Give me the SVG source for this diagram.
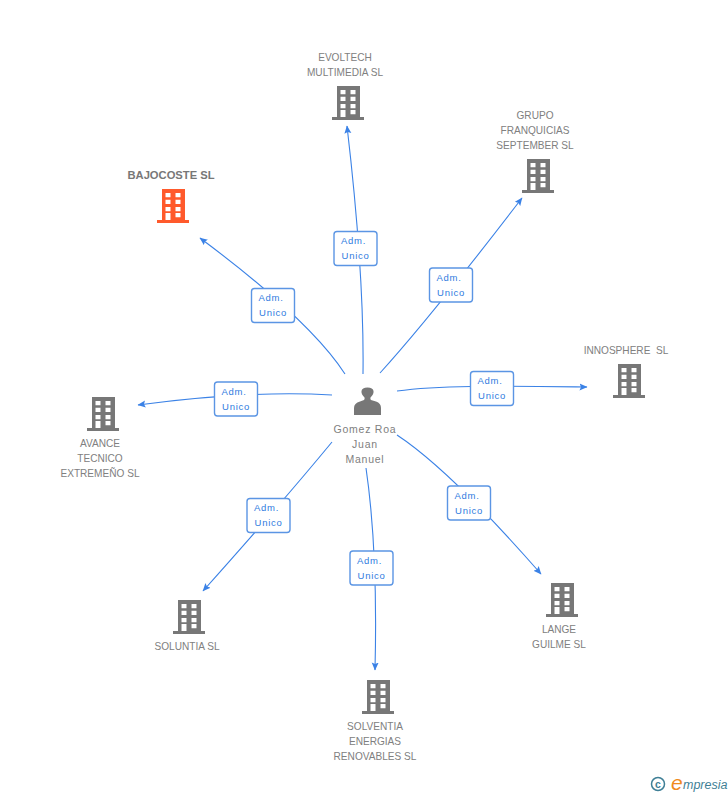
<svg xmlns="http://www.w3.org/2000/svg" xmlns:xlink="http://www.w3.org/1999/xlink" width="728" height="795" viewBox="0 0 728 795">
<style>
text{font-family:"Liberation Sans",Arial,sans-serif}
.n{font-size:10.100px;fill:#808080;text-anchor:middle}
.p{letter-spacing:.75px;font-size:10.500px}
.c{fill:none;stroke:#3b82e6;stroke-width:1.1}
.b{fill:#fff;stroke:#5b95e4;stroke-width:1.4}
.l{font-size:9.500px;fill:#2f7be0;text-anchor:middle;letter-spacing:.7px}
.i{font-style:italic;font-family:"Liberation Sans",Arial,sans-serif}
</style>
<defs>
<marker id="a" markerUnits="userSpaceOnUse" markerWidth="9" markerHeight="8" refX="7.500" refY="3.500" orient="auto"><path d="M0 0L8 3.500L0 7L1.500 3.500Z" fill="#3b82e6"/></marker>
<g id="bld"><path fill-rule="evenodd" d="M5 0H28V31H32V34H0V31H5ZM8.500 4V8.300H13.500V4ZM18.500 4V8.300H23.500V4ZM8.500 10.700V15H13.500V10.700ZM18.500 10.700V15H23.500V10.700ZM8.500 18V22.300H13.500V18ZM18.500 18V22.300H23.500V18ZM8.500 24V31H13.500V24ZM18.500 24V28.300H23.500V24Z"/></g>
<g id="adm"><rect x="0" y="0" width="43" height="34" rx="3" class="b"/><text class="l" x="19.500" y="12.500">Adm.</text><text class="l" x="21.500" y="27.500">Unico</text></g>
</defs>
<g id="connectors">
<path class="c" marker-end="url(#a)" d="M363 374C364 300 358 220 347 126"/>
<path class="c" marker-end="url(#a)" d="M380 373Q430 318 522 198"/>
<path class="c" marker-end="url(#a)" d="M345 374Q310 320 200 238"/>
<path class="c" marker-end="url(#a)" d="M397 391C440 385 500 386 587 387"/>
<path class="c" marker-end="url(#a)" d="M332 395Q250 390 138 405"/>
<path class="c" marker-end="url(#a)" d="M332 442Q280 505 203 591"/>
<path class="c" marker-end="url(#a)" d="M366 468Q378 550 375 670"/>
<path class="c" marker-end="url(#a)" d="M397 435Q450 470 541 574"/>
</g>
<g id="edge-labels">
<use xlink:href="#adm" href="#adm" x="334" y="231.500"/>
<use xlink:href="#adm" href="#adm" x="429.500" y="268"/>
<use xlink:href="#adm" href="#adm" x="251.500" y="288.500"/>
<use xlink:href="#adm" href="#adm" x="470.500" y="371.500"/>
<use xlink:href="#adm" href="#adm" x="214.500" y="382"/>
<use xlink:href="#adm" href="#adm" x="247" y="498.500"/>
<use xlink:href="#adm" href="#adm" x="350" y="551"/>
<use xlink:href="#adm" href="#adm" x="447.500" y="486"/>
</g>
<g id="person"><path fill="#777" d="M354 415V408Q354 403 360 401.500L364 400Q365 399 364.500 397.500Q361 394 361.500 391Q362 387.500 367.500 387.500Q373 387.500 373.500 391Q374 394 370.500 397.500Q370 399 371 400L376 401.500Q381 403 381 408V415Z"/>
<text class="n p" x="365" y="433">Gomez Roa</text><text class="n p" x="365" y="448">Juan</text><text class="n p" x="365" y="463">Manuel</text></g>
<g id="evoltech" fill="#777"><use xlink:href="#bld" href="#bld" x="332" y="86"/><text class="n" x="345" y="61">EVOLTECH</text><text class="n" x="345" y="76">MULTIMEDIA SL</text></g>
<g id="grupo" fill="#777"><use xlink:href="#bld" href="#bld" x="522" y="159"/><text class="n" x="535" y="119">GRUPO</text><text class="n" x="535" y="134">FRANQUICIAS</text><text class="n" x="535" y="149">SEPTEMBER SL</text></g>
<g id="bajocoste" fill="#ff5a2c"><use xlink:href="#bld" href="#bld" x="157" y="189"/><text x="171" y="179" font-size="11.200px" font-weight="700" fill="#777" text-anchor="middle">BAJOCOSTE SL</text></g>
<g id="innosphere" fill="#777"><use xlink:href="#bld" href="#bld" x="613" y="364"/><text class="n" x="626" y="354" xml:space="preserve">INNOSPHERE  SL</text></g>
<g id="avance" fill="#777"><use xlink:href="#bld" href="#bld" x="87" y="397"/><text class="n" x="100" y="447">AVANCE</text><text class="n" x="100" y="462">TECNICO</text><text class="n" x="100" y="477">EXTREMEÑO SL</text></g>
<g id="soluntia" fill="#777"><use xlink:href="#bld" href="#bld" x="173" y="600"/><text class="n" x="187" y="650">SOLUNTIA SL</text></g>
<g id="solventia" fill="#777"><use xlink:href="#bld" href="#bld" x="362" y="680"/><text class="n" x="375" y="730">SOLVENTIA</text><text class="n" x="375" y="745">ENERGIAS</text><text class="n" x="375" y="760">RENOVABLES SL</text></g>
<g id="lange" fill="#777"><use xlink:href="#bld" href="#bld" x="546" y="583"/><text class="n" x="559" y="633">LANGE</text><text class="n" x="559" y="648">GUILME SL</text></g>
<g id="logo"><circle cx="658" cy="784" r="6.500" fill="none" stroke="#3f7f96" stroke-width="1.500"/><text x="658" y="787.500" font-size="10.500px" font-weight="700" fill="#3f7f96" text-anchor="middle">c</text><text class="i" x="671" y="790" font-size="21px" fill="#f08a1d">e</text><text class="i" x="683" y="789" font-size="12.500px" fill="#3f7f96">mpresia</text></g>
</svg>
